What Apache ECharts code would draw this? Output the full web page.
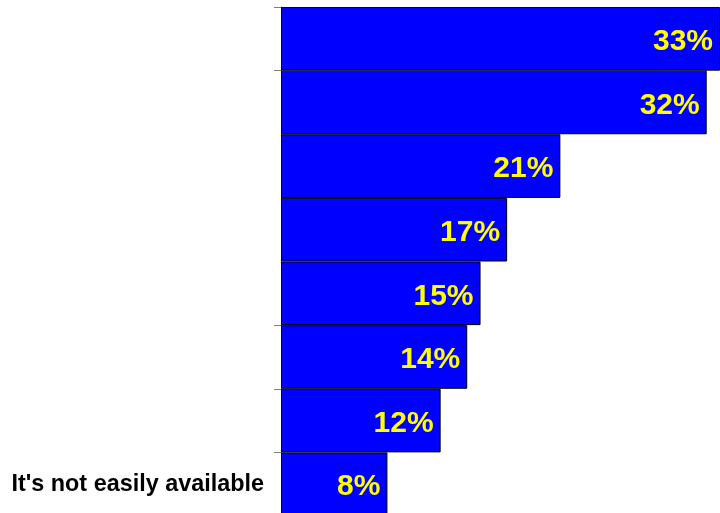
<!DOCTYPE html>
<html>
<head>
<meta charset="utf-8">
<script src="https://cdn.jsdelivr.net/npm/echarts@6/dist/echarts.min.js"></script>
<style>
  html, body { margin: 0; padding: 0; background: #ffffff; }
  #chart { width: 720px; height: 513px; }
</style>
</head>
<body>
<div id="chart"></div>
<script>
// Survey reasons, top to bottom; only the last one carries a printed caption.
const categories = ['', '', '', '', '', '', '', "It's not easily available"];
const shares = [33, 32, 21, 17, 15, 14, 12, 8];
// Band boundaries (by category index) that carry a tick mark.
const tickedBands = [0, 1, 5, 6, 7, 8];

const FONT = 'Arial, "Liberation Sans", sans-serif';

const chart = echarts.init(document.getElementById('chart'), null, { renderer: 'canvas' });
chart.setOption({
  animation: false,
  backgroundColor: '#ffffff',
  grid: {
    left: 281, right: 0, top: 7, height: 509,
    containLabel: false,
    outerBoundsMode: 'none'
  },
  xAxis: {
    type: 'value',
    min: 0,
    max: 33,
    show: false
  },
  yAxis: {
    type: 'category',
    data: categories,
    inverse: true,
    axisLine: { show: true, lineStyle: { color: '#808080', width: 1 } },
    axisTick: {
      show: true,
      length: 7,
      lineStyle: { color: '#808080', width: 1 },
      interval: function (index) { return tickedBands.indexOf(index) !== -1; }
    },
    axisLabel: {
      margin: 17,
      padding: [6, 0, 0, 0],
      color: '#000000',
      fontFamily: FONT,
      fontWeight: 'bold',
      fontSize: 23.4
    },
    splitLine: { show: false }
  },
  series: [{
    type: 'bar',
    data: shares,
    barCategoryGap: 0,
    itemStyle: { color: '#0000FF', borderColor: '#000000', borderWidth: 1 },
    label: {
      show: true,
      position: 'insideRight',
      distance: 7,
      offset: [0, 3],
      formatter: '{c}%',
      color: '#FFFF00',
      fontFamily: FONT,
      fontWeight: 'bold',
      fontSize: 30
    }
  }]
});
</script>
</body>
</html>
